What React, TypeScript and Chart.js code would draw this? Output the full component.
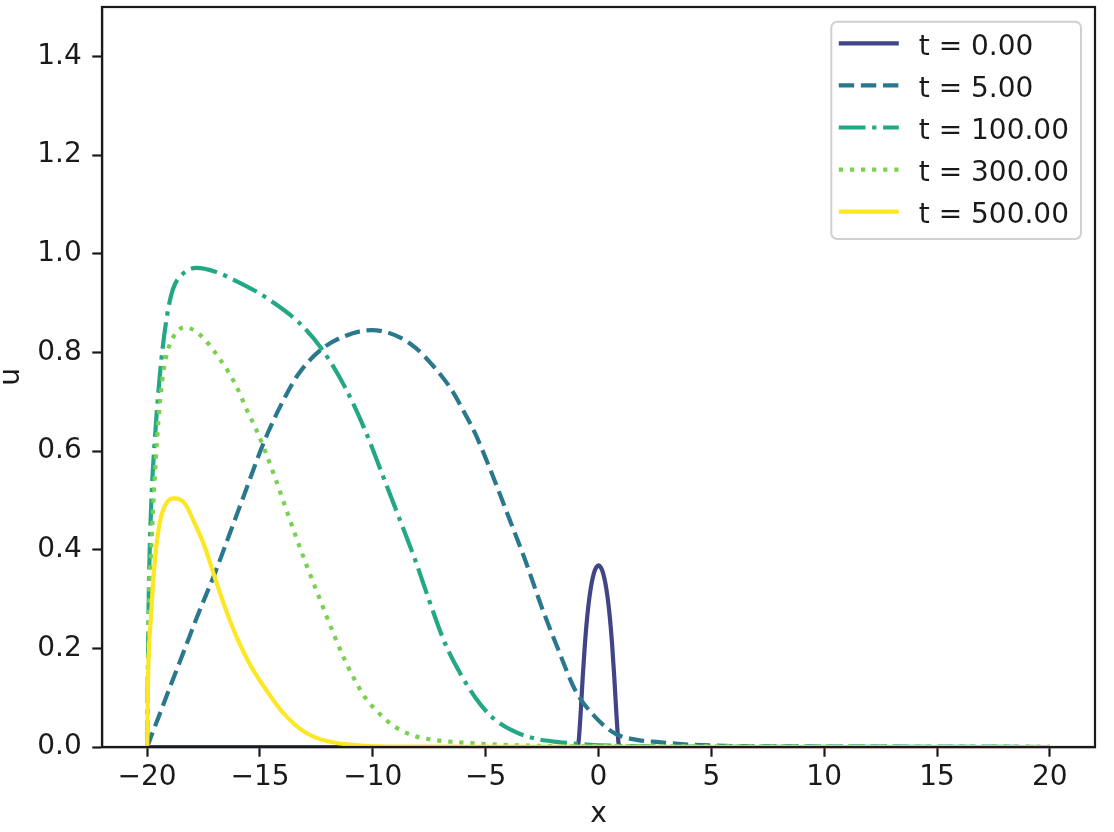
import { useEffect, useRef } from 'react';
import { Chart, registerables } from 'chart.js';

Chart.register(...registerables);

// ---- data ----
const seriesLabels = ['t = 0.00', 't = 5.00', 't = 100.00', 't = 300.00', 't = 500.00'];

const t0X = [-20, -1.0, -0.9, -0.8, -0.7, -0.6, -0.5, -0.4, -0.3, -0.2, -0.1, 0, 0.1, 0.2, 0.3, 0.4, 0.5, 0.6, 0.7, 0.8, 0.9, 1.0, 20];
const t0U = [0, 0, 0.005, 0.062, 0.141, 0.21, 0.264, 0.304, 0.333, 0.353, 0.364, 0.368, 0.364, 0.353, 0.333, 0.304, 0.264, 0.21, 0.141, 0.062, 0.005, 0, 0];

const t5X = [-20, -19.5, -19.0, -18.34, -17.75, -17.0, -16.4, -15.67, -15.0, -14.64, -14.05, -13.31, -12.28, -11.24, -10.06, -9.02, -8.13, -7.24, -6.51, -5.91, -5.47, -4.73, -3.99, -3.25, -2.52, -1.77, -1.03, -0.15, 0.74, 1.77, 2.66, 4, 6, 10, 20];
const t5U = [0, 0.06, 0.12, 0.198, 0.268, 0.352, 0.425, 0.515, 0.598, 0.638, 0.695, 0.755, 0.806, 0.833, 0.845, 0.835, 0.81, 0.768, 0.724, 0.675, 0.636, 0.555, 0.467, 0.379, 0.284, 0.196, 0.115, 0.061, 0.027, 0.014, 0.01, 0.005, 0.002, 0.001, 0];

const t100X = [-20, -19.93, -19.82, -19.67, -19.52, -19.37, -19.15, -18.95, -18.78, -18.34, -17.82, -17.01, -16.12, -15.08, -14.34, -13.31, -12.28, -11.24, -10.35, -9.54, -8.73, -8.13, -7.54, -6.8, -6.1, -5.47, -4.73, -3.85, -2.81, -1.77, -0.5, 1, 3, 20];
const t100U = [0, 0.3, 0.49, 0.616, 0.71, 0.785, 0.865, 0.913, 0.937, 0.962, 0.971, 0.964, 0.946, 0.921, 0.899, 0.862, 0.808, 0.73, 0.643, 0.548, 0.452, 0.38, 0.302, 0.21, 0.147, 0.101, 0.061, 0.034, 0.017, 0.01, 0.005, 0.002, 0.001, 0];

const t300X = [-20, -19.93, -19.8, -19.67, -19.55, -19.45, -19.3, -19.08, -18.85, -18.56, -18.3, -18.11, -17.67, -17.3, -16.79, -16.41, -15.97, -15.6, -15.16, -14.79, -14.34, -13.9, -13.45, -12.95, -12.42, -12.05, -11.68, -11.31, -10.87, -10.35, -9.76, -9.02, -8.13, -7.24, -6.36, -4.5, -2, 20];
const t300U = [0, 0.26, 0.42, 0.54, 0.63, 0.69, 0.755, 0.805, 0.83, 0.847, 0.851, 0.849, 0.836, 0.818, 0.787, 0.761, 0.724, 0.685, 0.643, 0.602, 0.547, 0.49, 0.432, 0.37, 0.308, 0.265, 0.223, 0.183, 0.142, 0.101, 0.07, 0.041, 0.022, 0.014, 0.01, 0.005, 0.002, 0.001];

const t500X = [-20, -19.96, -19.82, -19.67, -19.45, -19.15, -18.78, -18.34, -17.89, -17.45, -17.01, -16.56, -15.97, -15.38, -14.7, -14.1, -13.5, -13.0, -12.4, -11.6, -10.5, -9, 20];
const t500U = [0, 0.135, 0.271, 0.372, 0.453, 0.494, 0.504, 0.494, 0.453, 0.406, 0.345, 0.284, 0.216, 0.162, 0.114, 0.076, 0.047, 0.03, 0.017, 0.008, 0.003, 0.001, 0];

const xTicks = [-20, -15, -10, -5, 0, 5, 10, 15, 20];
const yTicks = [0, 0.2, 0.4, 0.6, 0.8, 1.0, 1.2, 1.4];

// ---- styles ----
const seriesColors = ['#414487', '#2a788e', '#22a884', '#7ad151', '#fde725'];
const seriesDashes: number[][] = [[], [15.4, 6.7], [26.7, 6.7, 4.2, 6.7], [4.2, 6.9], []];
const FONT = "'DejaVu Sans'";
const INK = '#1a1a1a';

const seriesX = [t0X, t5X, t100X, t300X, t500X];
const seriesU = [t0U, t5U, t100U, t300U, t500U];

const framePlugin = {
  id: 'frameAndLegend',
  afterDraw(chart: any) {
    const { ctx, chartArea: a } = chart;
    ctx.save();
    // spines
    ctx.strokeStyle = INK;
    ctx.lineWidth = 2.2;
    ctx.setLineDash([]);
    ctx.strokeRect(a.left, a.top, a.right - a.left, a.bottom - a.top);

    // legend (matplotlib style, upper right inside axes)
    const ds = chart.data.datasets;
    ctx.font = `28px ${FONT}`;
    const maxW = Math.max(...ds.map((d: any) => ctx.measureText(d.label).width));
    const frameRight = a.right - 14;
    const textLeft = frameRight - 12 - maxW;
    const handleRight = textLeft - 20;
    const handleLeft = handleRight - 60;
    const frameLeft = handleLeft - 7.5;
    const frameTop = a.top + 14.7;
    const row0 = frameTop + 21.6;
    const rowGap = 42.1;
    const frameBottom = row0 + rowGap * (ds.length - 1) + 27.3;
    ctx.beginPath();
    ctx.roundRect(frameLeft, frameTop, frameRight - frameLeft, frameBottom - frameTop, 6);
    ctx.fillStyle = 'rgba(255,255,255,0.8)';
    ctx.fill();
    ctx.strokeStyle = '#d0d0d0';
    ctx.lineWidth = 2;
    ctx.stroke();
    ds.forEach((d: any, i: number) => {
      const y = row0 + rowGap * i;
      ctx.beginPath();
      ctx.setLineDash(d.borderDash || []);
      ctx.lineCap = 'butt';
      ctx.strokeStyle = d.borderColor;
      ctx.lineWidth = d.borderWidth;
      ctx.moveTo(handleLeft, y);
      ctx.lineTo(handleRight, y);
      ctx.stroke();
      ctx.setLineDash([]);
      ctx.fillStyle = INK;
      ctx.textBaseline = 'alphabetic';
      ctx.textAlign = 'left';
      ctx.fillText(d.label, textLeft, y + 11.7);
    });
    ctx.restore();
  },
};

export default function App() {
  const ref = useRef<HTMLCanvasElement>(null);
  useEffect(() => {
    const tickFont = { family: FONT, size: 28 };
    const chart = new Chart(ref.current as HTMLCanvasElement, {
      type: 'line',
      data: {
        datasets: seriesLabels.map((label, i) => ({
          label,
          data: seriesX[i].map((x, j) => ({ x, y: seriesU[i][j] })),
          borderColor: seriesColors[i],
          backgroundColor: seriesColors[i],
          borderDash: seriesDashes[i],
          borderWidth: 4.2,
          borderCapStyle: 'butt',
          borderJoinStyle: 'round',
          pointRadius: 0,
          pointHoverRadius: 0,
          fill: false,
          cubicInterpolationMode: 'monotone',
          order: seriesLabels.length - i,
        })),
      },
      options: {
        animation: false,
        responsive: false,
        events: [],
        layout: { padding: { left: 0, top: 7, right: 19, bottom: 0 } },
        plugins: { legend: { display: false }, tooltip: { enabled: false } },
        scales: {
          x: {
            type: 'linear',
            min: -22,
            max: 22,
            afterBuildTicks: (s: any) => {
              s.ticks = xTicks.map((v) => ({ value: v }));
            },
            afterFit: (s: any) => {
              s.height = 85;
              s.paddingLeft = 0;
              s.paddingRight = 0;
              s.paddingTop = 0;
              s.paddingBottom = 0;
            },
            grid: { drawOnChartArea: false, drawTicks: true, tickLength: 9.7, tickWidth: 2.2, color: INK },
            border: { display: true, color: INK, width: 2.2 },
            ticks: {
              font: tickFont,
              color: INK,
              padding: 4.5,
              maxRotation: 0,
              autoSkip: false,
              callback: (v: any) => (Number(v) < 0 ? '\u2212' + Math.abs(Number(v)) : String(v)),
            },
            title: { display: true, text: 'x', font: { family: FONT, size: 28 }, color: INK, padding: { top: 0, bottom: 0 } },
          },
          y: {
            type: 'linear',
            min: 0,
            max: 1.5,
            afterBuildTicks: (s: any) => {
              s.ticks = yTicks.map((v) => ({ value: v }));
            },
            afterFit: (s: any) => {
              s.width = 102;
              s.paddingLeft = 0;
              s.paddingRight = 0;
              s.paddingTop = 0;
              s.paddingBottom = 0;
            },
            grid: { drawOnChartArea: false, drawTicks: true, tickLength: 9.7, tickWidth: 2.2, color: INK },
            border: { display: true, color: INK, width: 2.2 },
            ticks: {
              font: tickFont,
              color: INK,
              padding: 10.5,
              autoSkip: false,
              callback: (v: any) => Number(v).toFixed(1),
            },
            title: { display: true, text: 'u', font: { family: FONT, size: 28, lineHeight: 0.857 }, color: INK, padding: { top: 0, bottom: 0 } },
          },
        },
      },
      plugins: [framePlugin],
    } as any);
    return () => chart.destroy();
  }, []);
  return (
    <canvas
      ref={ref}
      width={1114}
      height={832}
      style={{ position: 'absolute', left: 0, top: 0, width: 1114, height: 832, display: 'block' }}
    />
  );
}
